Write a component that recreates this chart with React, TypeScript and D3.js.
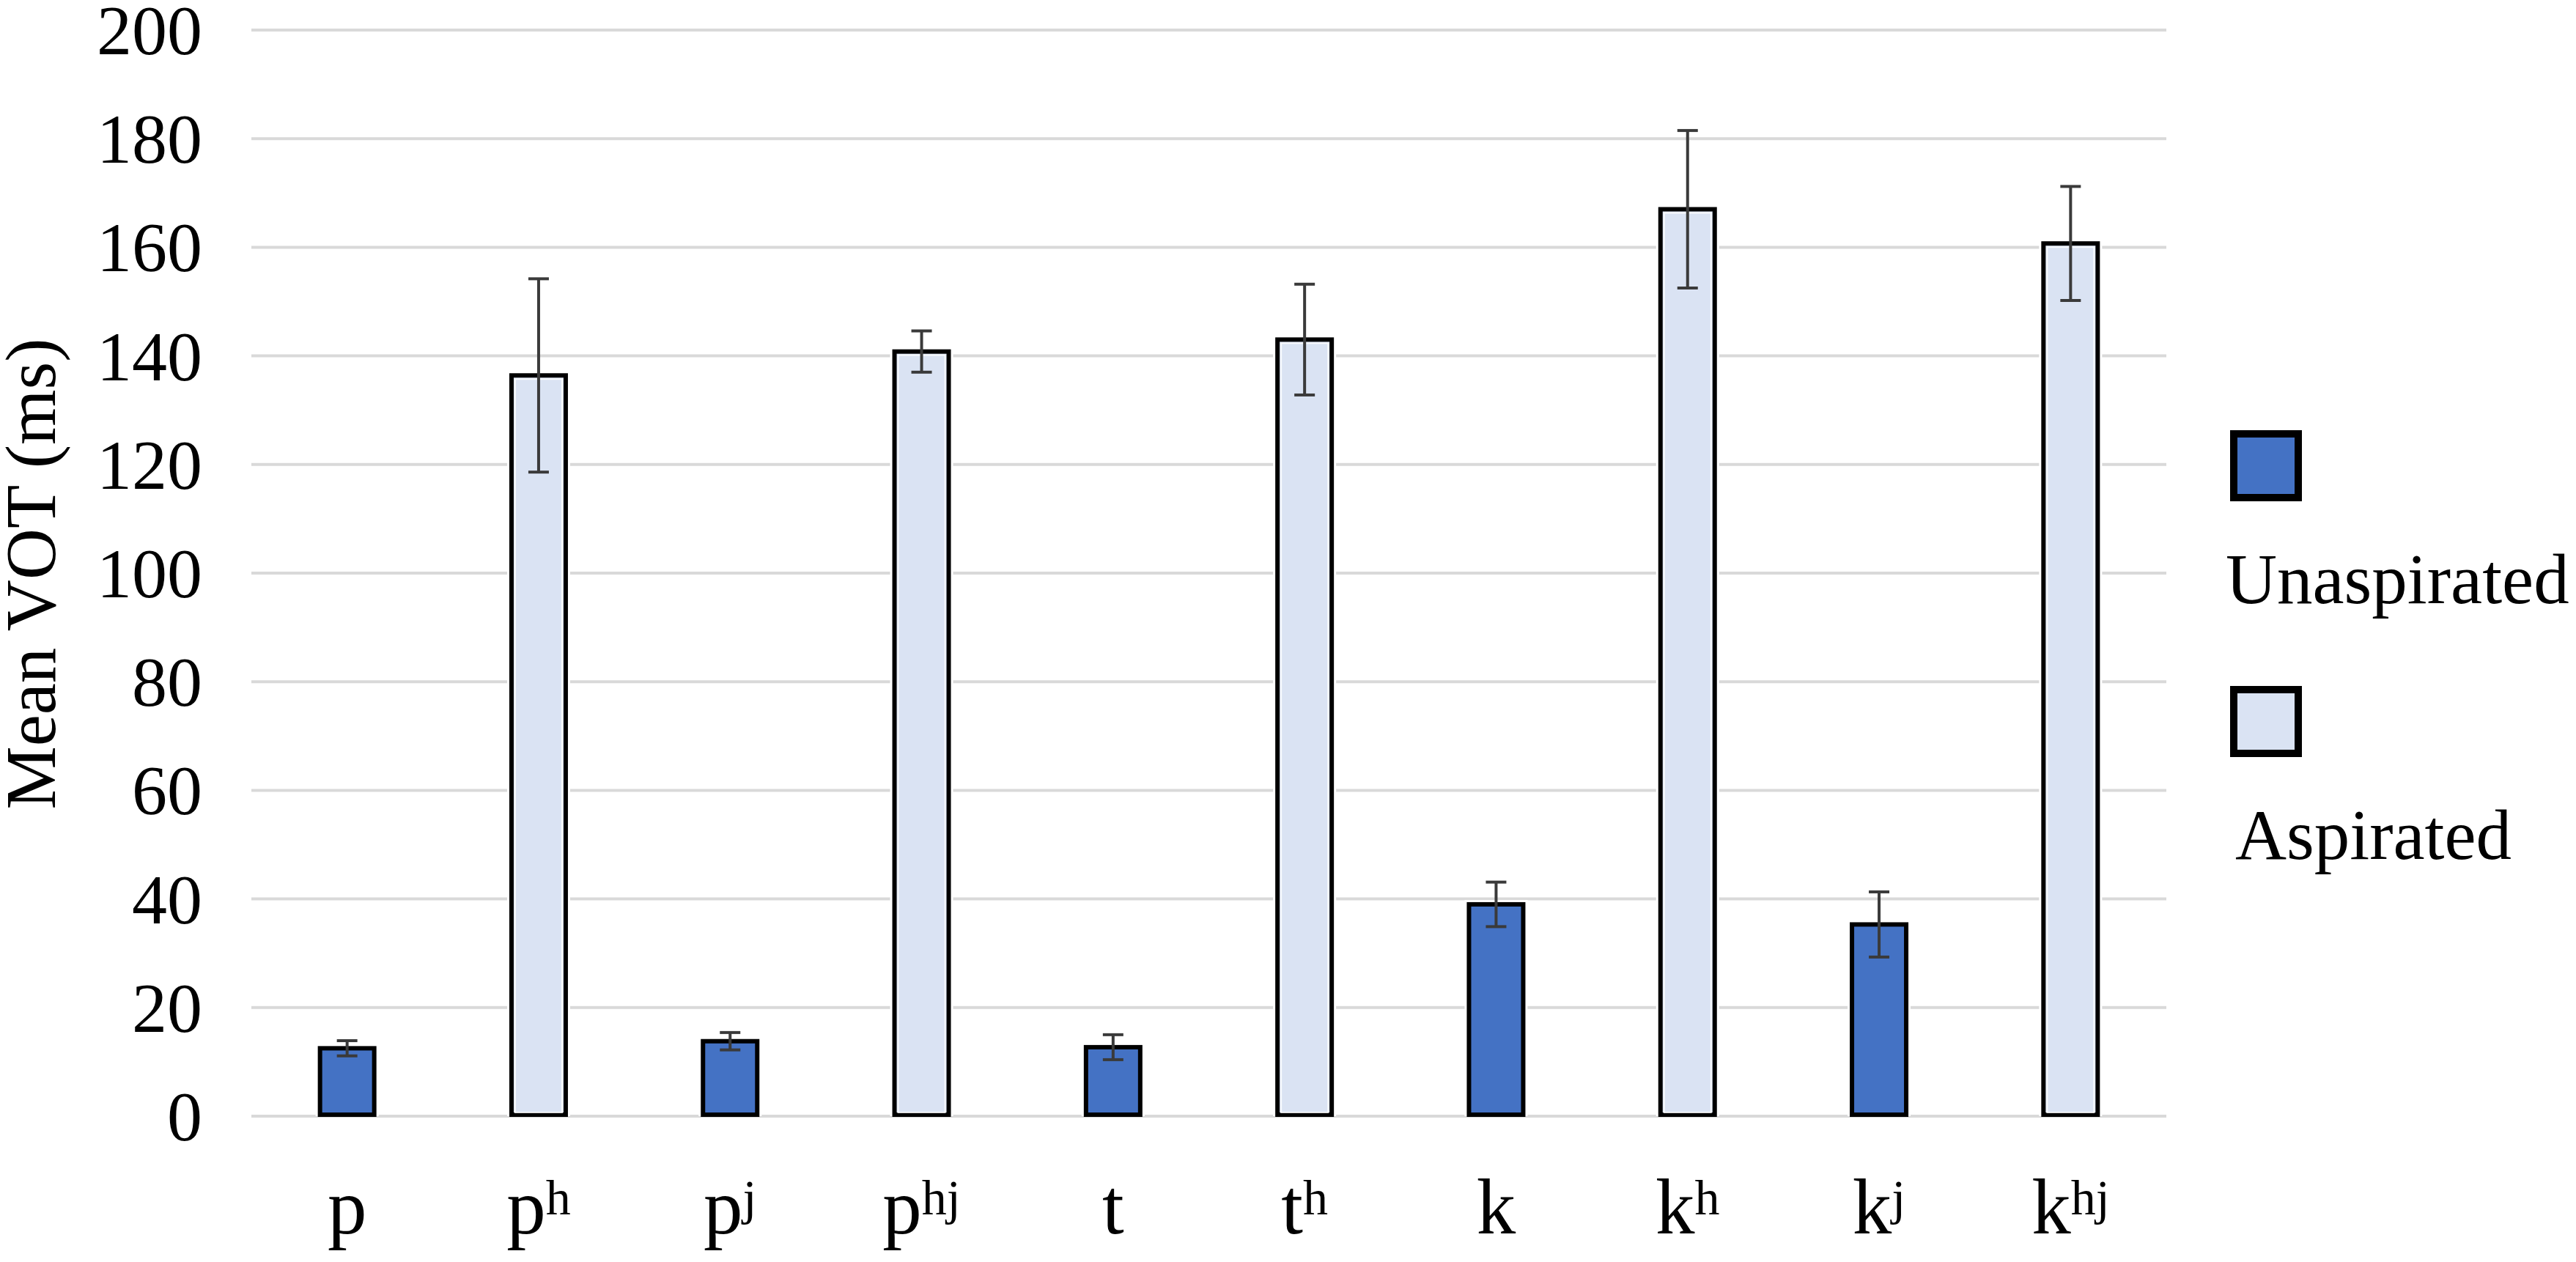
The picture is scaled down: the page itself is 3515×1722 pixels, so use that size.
import React, { useEffect } from "react";
import * as d3 from "d3";

// ---- data ----
const categories = ["p", "ph", "pj", "phj", "t", "th", "k", "kh", "kj", "khj"];
const labelBase = ["p", "p", "p", "p", "t", "t", "k", "k", "k", "k"];
const labelSup = ["", "h", "j", "hj", "", "h", "", "h", "j", "hj"];
const seriesOf = ["Unaspirated", "Aspirated", "Unaspirated", "Aspirated", "Unaspirated", "Aspirated", "Unaspirated", "Aspirated", "Unaspirated", "Aspirated"];
const meanVOT = [12.5, 136.4, 13.8, 140.8, 12.7, 143.0, 39.0, 167.0, 35.3, 160.7];
const errVOT = [1.4, 17.8, 1.6, 3.8, 2.3, 10.2, 4.1, 14.5, 6.0, 10.5];
const yTicks = [0, 20, 40, 60, 80, 100, 120, 140, 160, 180, 200];
const seriesNames = ["Unaspirated", "Aspirated"];
const seriesColors = ["#4472C4", "#DAE3F3"];

const W = 3515;
const H = 1722;
const FONT = "'Liberation Serif', 'Times New Roman', Times, serif";

export default function App() {
  useEffect(() => {
    document.body.style.margin = "0";
  }, []);

  const x = d3.scaleBand<string>().domain(categories).range([343, 2956]).paddingInner(0).paddingOuter(0);
  const y = d3.scaleLinear().domain([0, 200]).range([1523, 41]);
  const color = d3.scaleOrdinal<string, string>().domain(seriesNames).range(seriesColors);

  const barW = 74; // plus 6px stroke = 80 outer
  const capW = 28;

  return (
    <svg width={W} height={H} style={{ position: "absolute", left: 0, top: 0, background: "#fff" }} fontFamily={FONT}>
      <rect x={0} y={0} width={W} height={H} fill="#fff" />
      {/* gridlines */}
      {yTicks.map((t) => (
        <line key={t} x1={343} x2={2956} y1={y(t)} y2={y(t)} stroke="#D9D9D9" strokeWidth={4} />
      ))}
      {/* y tick labels */}
      {yTicks.map((t) => (
        <text key={"l" + t} x={276} y={y(t) + 33} fontSize={96} textAnchor="end" fill="#000">
          {t}
        </text>
      ))}
      {/* y axis title */}
      <text transform={`translate(75,783) rotate(-90)`} fontSize={97} textAnchor="middle" fill="#000">
        Mean VOT (ms)
      </text>
      {/* bars */}
      {categories.map((c, i) => {
        const cx = (x(c) as number) + x.bandwidth() / 2;
        const top = y(meanVOT[i]);
        const bottom = y(0);
        return (
          <g key={c}>
            <rect x={cx - barW / 2 - 6} y={top - 6} width={barW + 12} height={bottom - top + 6} fill="#fff" />
            <rect
              x={cx - barW / 2}
              y={top}
              width={barW}
              height={bottom - top - 2}
              fill={color(seriesOf[i])}
              stroke="#000"
              strokeWidth={6}
            />
            {seriesOf[i] === "Aspirated" && (
              <rect
                x={cx - barW / 2 + 5}
                y={top + 5}
                width={barW - 10}
                height={bottom - top - 10}
                fill="none"
                stroke="#fff"
                strokeWidth={2}
                opacity={0.8}
              />
            )}
          </g>
        );
      })}
      {/* error bars */}
      {categories.map((c, i) => {
        const cx = (x(c) as number) + x.bandwidth() / 2;
        const hi = y(meanVOT[i] + errVOT[i]);
        const lo = y(meanVOT[i] - errVOT[i]);
        return (
          <g key={"e" + c} stroke="#3A3A3A" strokeWidth={4}>
            <line x1={cx} x2={cx} y1={hi} y2={lo} />
            <line x1={cx - capW / 2} x2={cx + capW / 2} y1={hi} y2={hi} />
            <line x1={cx - capW / 2} x2={cx + capW / 2} y1={lo} y2={lo} />
          </g>
        );
      })}
      {/* x labels */}
      {categories.map((c, i) => {
        const cx = (x(c) as number) + x.bandwidth() / 2;
        return (
          <text key={"x" + c} x={cx} y={1683} fontSize={107} textAnchor="middle" fill="#000">
            <tspan>{labelBase[i]}</tspan>
            {labelSup[i] && (
              <tspan fontSize={68} dy={-26}>
                {labelSup[i]}
              </tspan>
            )}
          </text>
        );
      })}
      {/* legend */}
      {seriesNames.map((s, i) => {
        const sy = [592, 941][i];
        const ty = [823, 1172][i];
        const tx = [3037, 3050][i];
        return (
          <g key={"lg" + s}>
            <rect x={3048} y={sy} width={88} height={87} fill={color(s)} stroke="#000" strokeWidth={10} />
            <text x={tx} y={ty} fontSize={97} fill="#000">
              {s}
            </text>
          </g>
        );
      })}
    </svg>
  );
}
